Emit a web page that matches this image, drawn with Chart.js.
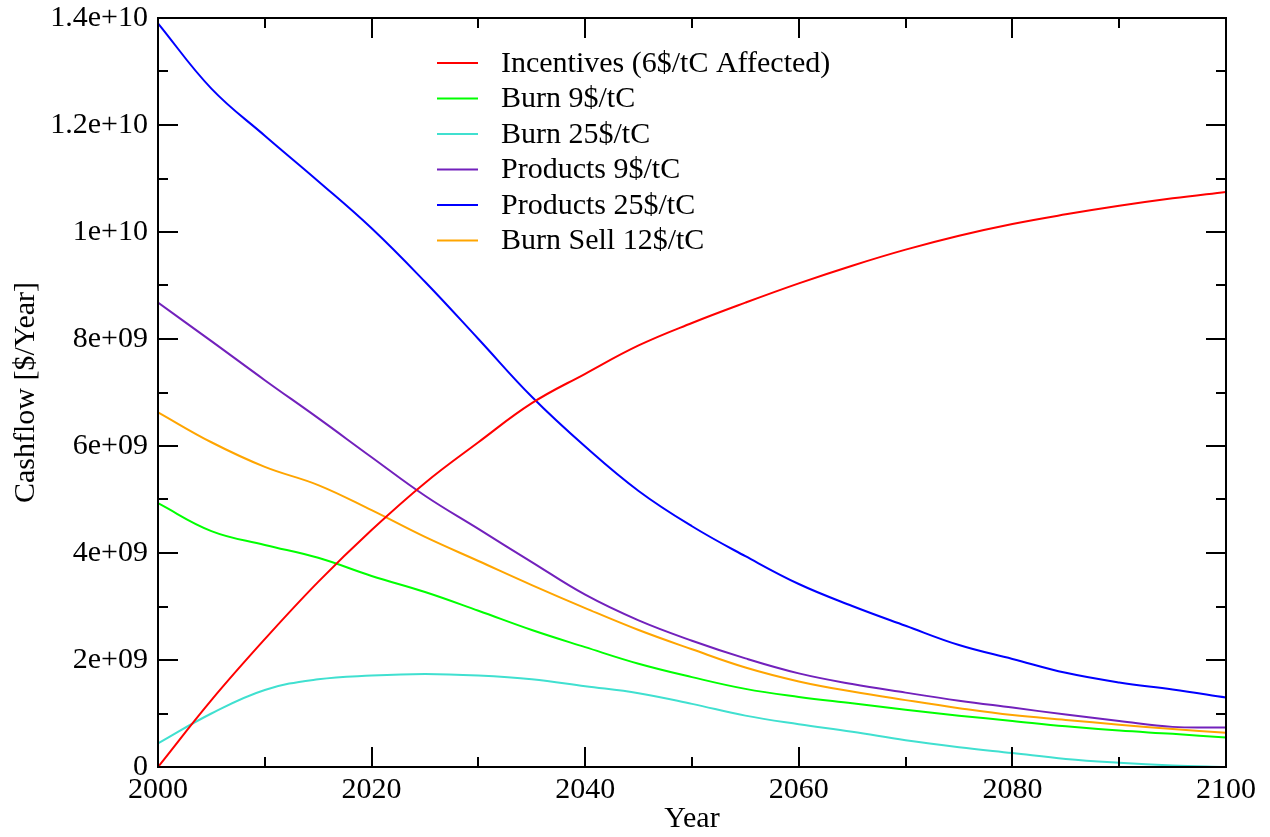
<!DOCTYPE html>
<html>
<head>
<meta charset="utf-8">
<title>Cashflow</title>
<script src="https://cdn.jsdelivr.net/npm/chart.js@4.4.1/dist/chart.umd.min.js"></script>
<style>
  html, body { margin: 0; padding: 0; background: #fff; }
  #wrap { width: 1270px; height: 837px; }
</style>
</head>
<body>
<div id="wrap"><canvas id="cash" width="1270" height="837"></canvas></div>
<script>
/* Cashflow vs year, six series, values in units of 1e9 $/year */

var years = [2000, 2005, 2010, 2015, 2020, 2025, 2030, 2035, 2040, 2045, 2050,
             2055, 2060, 2065, 2070, 2075, 2080, 2085, 2090, 2095, 2100];

var incentives  = [0, 1.25, 2.39, 3.46, 4.43, 5.31, 6.07, 6.80, 7.35, 7.88, 8.30,
                   8.68, 9.04, 9.37, 9.67, 9.93, 10.15, 10.33, 10.49, 10.63, 10.75];
var burn9       = [4.93, 4.41, 4.15, 3.91, 3.57, 3.27, 2.92, 2.56, 2.24, 1.93, 1.68,
                   1.46, 1.31, 1.19, 1.07, 0.96, 0.86, 0.76, 0.68, 0.62, 0.55];
var burn25      = [0.44, 1.00, 1.44, 1.64, 1.71, 1.74, 1.71, 1.64, 1.51, 1.38, 1.18,
                   0.96, 0.80, 0.66, 0.50, 0.37, 0.26, 0.15, 0.08, 0.03, 0.0];
var products9   = [8.68, 7.96, 7.23, 6.52, 5.79, 5.07, 4.45, 3.83, 3.22, 2.74, 2.36,
                   2.03, 1.75, 1.55, 1.39, 1.24, 1.11, 0.98, 0.86, 0.75, 0.74];
var products25  = [13.9, 12.68, 11.80, 10.95, 10.07, 9.07, 8.00, 6.92, 5.99, 5.16, 4.50,
                   3.94, 3.42, 3.01, 2.64, 2.28, 2.02, 1.76, 1.58, 1.45, 1.30];
var burnSell12  = [6.63, 6.07, 5.61, 5.27, 4.80, 4.30, 3.85, 3.40, 2.97, 2.56, 2.20,
                   1.86, 1.60, 1.41, 1.25, 1.10, 0.97, 0.88, 0.79, 0.71, 0.64];

var seriesNames = ['Incentives (6$/tC Affected)', 'Burn 9$/tC', 'Burn 25$/tC',
                   'Products 9$/tC', 'Products 25$/tC', 'Burn Sell 12$/tC'];
var seriesColors = ['#ff0000', '#00ff00', '#40e0d0', '#7221bc', '#0000ff', '#ffa500'];

var xTickLabels = ['2000', '2020', '2040', '2060', '2080', '2100'];
var yTickLabels = ['0', '2e+09', '4e+09', '6e+09', '8e+09', '1e+10', '1.2e+10', '1.4e+10'];

var FONT = "'Liberation Serif', 'Times New Roman', serif";
var FSIZE = 30;

function toPoints(vals) {
  return vals.map(function(v, i) { return { x: years[i], y: v * 1e9 }; });
}

var allSeries = [incentives, burn9, burn25, products9, products25, burnSell12];

var datasets = allSeries.map(function(s, i) {
  return {
    label: seriesNames[i],
    data: toPoints(s),
    borderColor: seriesColors[i],
    backgroundColor: seriesColors[i],
    borderWidth: 2,
    pointRadius: 0,
    fill: false,
    tension: 0.4
  };
});

/* frame with inward ticks on all four sides, like the xmgrace original */
var framePlugin = {
  id: 'frame',
  afterDraw: function(chart) {
    var ctx = chart.ctx, a = chart.chartArea;
    var xs = chart.scales.x, ys = chart.scales.y;
    ctx.save();
    ctx.strokeStyle = '#000';
    ctx.lineWidth = 2;
    ctx.strokeRect(a.left, a.top, a.right - a.left, a.bottom - a.top);
    ctx.beginPath();
    var v, p, len;
    for (v = 2000; v <= 2100; v += 10) {
      len = (v % 20 === 0) ? 20 : 10;
      p = Math.round(xs.getPixelForValue(v));
      ctx.moveTo(p, a.bottom); ctx.lineTo(p, a.bottom - len);
      ctx.moveTo(p, a.top);    ctx.lineTo(p, a.top + len);
    }
    for (v = 0; v <= 14; v += 1) {
      len = (v % 2 === 0) ? 20 : 10;
      p = Math.round(ys.getPixelForValue(v * 1e9));
      ctx.moveTo(a.left, p);  ctx.lineTo(a.left + len, p);
      ctx.moveTo(a.right, p); ctx.lineTo(a.right - len, p);
    }
    ctx.stroke();
    ctx.restore();
  }
};

/* legend drawn inside the plot */
var legendPlugin = {
  id: 'innerLegend',
  afterDraw: function(chart) {
    var ctx = chart.ctx;
    ctx.save();
    ctx.font = FSIZE + 'px ' + FONT;
    ctx.textBaseline = 'middle';
    ctx.textAlign = 'left';
    chart.data.datasets.forEach(function(ds, i) {
      var y = 63 + i * 35.5;
      ctx.strokeStyle = ds.borderColor;
      ctx.lineWidth = 2;
      ctx.beginPath();
      ctx.moveTo(437, y); ctx.lineTo(478, y);
      ctx.stroke();
      ctx.fillStyle = '#000';
      ctx.fillText(ds.label, 501, y + 1);
    });
    ctx.restore();
  }
};

new Chart(document.getElementById('cash'), {
  type: 'line',
  data: { datasets: datasets },
  options: {
    responsive: false,
    animation: false,
    layout: { padding: { top: 18, right: 44, left: 0, bottom: 0 } },
    plugins: { legend: { display: false }, tooltip: { enabled: false } },
    scales: {
      x: {
        type: 'linear', min: 2000, max: 2100,
        grid: { display: false, drawTicks: false },
        border: { display: false },
        ticks: {
          stepSize: 20, padding: 5, color: '#000', maxRotation: 0,
          font: { family: FONT, size: FSIZE },
          callback: function(val, idx) { return xTickLabels[idx]; }
        },
        title: { display: true, text: 'Year', color: '#000', padding: 0,
                 font: { family: FONT, size: FSIZE } },
        afterFit: function(s) { s.height = 70; s.paddingLeft = 0; s.paddingRight = 0; }
      },
      y: {
        type: 'linear', min: 0, max: 1.4e10,
        grid: { display: false, drawTicks: false },
        border: { display: false },
        ticks: {
          stepSize: 2e9, padding: 10, color: '#000',
          font: { family: FONT, size: FSIZE },
          callback: function(val, idx) { return yTickLabels[idx]; }
        },
        title: { display: true, text: 'Cashflow [$/Year]', color: '#000', padding: { top: 8, bottom: 0 },
                 font: { family: FONT, size: FSIZE } },
        afterFit: function(s) { s.width = 158; s.paddingTop = 0; s.paddingBottom = 0; }
      }
    }
  },
  plugins: [framePlugin, legendPlugin]
});
</script>
</body>
</html>
